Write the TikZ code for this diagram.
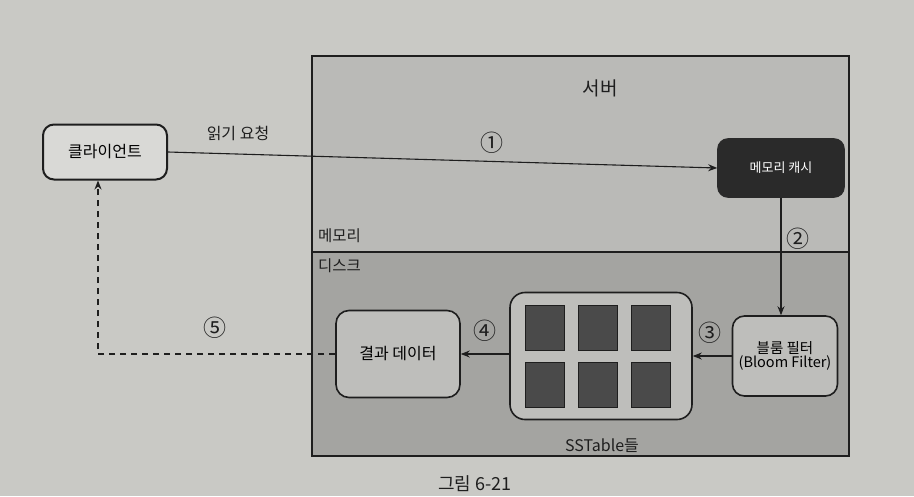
\documentclass[tikz,border=0pt]{standalone}
\usepackage{fontspec}
\setmainfont{Noto Sans CJK KR}
\usetikzlibrary{arrows.meta}
\definecolor{pagebg}{HTML}{C9C9C5}
\definecolor{memcol}{HTML}{BABAB7}
\definecolor{diskcol}{HTML}{A4A4A1}
\definecolor{boxfill}{HTML}{BEBEBB}
\definecolor{darkbox}{HTML}{2A2A2A}
\definecolor{tile}{HTML}{4A4A4A}
\definecolor{ink}{HTML}{1E1E1E}
\tikzset{
  fs/.style={font=\fontsize{#1}{#1}\selectfont},
  rbox/.style={draw=ink, line width=1.6pt, rounded corners=11pt, fill=boxfill, align=center, inner sep=0pt, fs=16},
  tilebox/.style={draw=ink, line width=0.8pt, fill=tile, minimum width=39pt, minimum height=45pt, inner sep=0pt},
  conn/.style={draw=ink, line width=1.1pt, -{Stealth[length=9pt,width=7pt]}},
  dconn/.style={draw=ink, line width=1.5pt, dash pattern=on 6pt off 5pt, -{Stealth[length=9pt,width=7pt]}},
  lbl/.style={text=ink, inner sep=0pt, fs=16},
  num/.style={text=ink, inner sep=0pt, fs=23}
}
\begin{document}
\begin{tikzpicture}[x=1pt,y=-1pt]
\useasboundingbox (0,0) rectangle (914,496);
\fill[pagebg] (0,0) rectangle (914,496);
% server container
\fill[memcol] (312,56) rectangle (849,252);
\fill[diskcol] (312,252) rectangle (849,456);
\draw[ink, line width=1.1pt] (312,56) rectangle (849,456);
\draw[ink, line width=1.1pt] (312,252) -- (849,252);
\node[lbl, fs=19] (server) at (600,88) {서버};
\node[lbl, fs=15.5, anchor=west] (memlbl) at (318,236) {메모리};
\node[lbl, fs=15.5, anchor=west] (disklbl) at (318,266) {디스크};
% nodes
\node[rbox, fill=pagebg!70!white, minimum width=124pt, minimum height=55pt, line width=2pt] (client) at (105,152) {클라이언트};
\node[rbox, fill=darkbox, draw=darkbox, text=white, minimum width=126pt, minimum height=58pt, fs=13, rounded corners=10pt] (cache) at (781,168) {메모리 캐시};
\node[rbox, minimum width=105pt, minimum height=80pt, fs=14.5, rounded corners=12pt] (bloom) at (785,356) {블룸 필터\\(Bloom Filter)};
\node[rbox, minimum width=182pt, minimum height=127pt, rounded corners=15pt] (sst) at (601,356) {};
\node[rbox, minimum width=124pt, minimum height=87pt, rounded corners=13pt] (result) at (398,354) {결과 데이터};
% sstable tiles
\node[tilebox] (t1) at (545,328) {};
\node[tilebox] (t2) at (598,328) {};
\node[tilebox] (t3) at (651,328) {};
\node[tilebox] (t4) at (545,385) {};
\node[tilebox] (t5) at (598,385) {};
\node[tilebox] (t6) at (651,385) {};
\node[lbl, fs=16] (sstlbl) at (602,446) {SSTable들};
% connectors
\draw[conn] (client.east) -- (cache.west);
\node[lbl] (req) at (238,133) {읽기 요청};
\node[num] (n1) at (492,143) {①};
\draw[conn] (cache.south) -- (cache.south |- bloom.north);
\node[num] (n2) at (798,239) {②};
\draw[conn] (bloom.west) -- (sst.east |- bloom.west);
\node[num] (n3) at (710,333) {③};
\draw[conn] (sst.west |- result.east) -- (result.east);
\node[num] (n4) at (485,331) {④};
\coordinate (dturn) at (98,354);
\draw[dconn] (result.west) -- (dturn) -- (dturn |- client.south);
\node[num] (n5) at (215,328) {⑤};
% caption
\node[lbl, fs=18] (cap) at (475,484) {그림 6-21};
\end{tikzpicture}
\end{document}
